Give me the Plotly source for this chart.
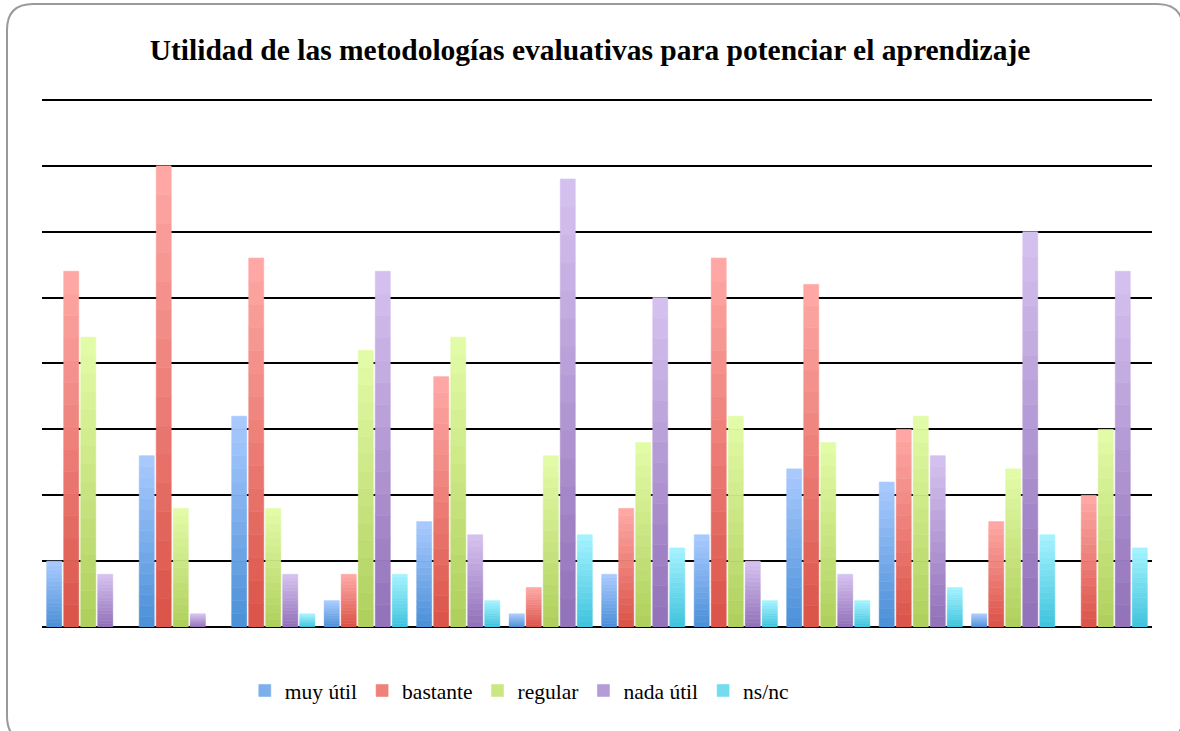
import plotly.graph_objects as go

# --- Data ---
grupos = [str(i) for i in range(1, 13)]
muy_util = [5, 13, 16, 2, 8, 1, 4, 7, 12, 11, 1, 0]
bastante = [27, 35, 28, 4, 19, 3, 9, 28, 26, 15, 8, 10]
regular = [22, 9, 9, 21, 22, 13, 14, 16, 14, 16, 12, 15]
nada_util = [4, 1, 4, 27, 7, 34, 25, 5, 4, 13, 30, 27]
ns_nc = [0, 0, 1, 4, 2, 7, 6, 2, 2, 3, 7, 6]

SERIES = [
    ("muy útil", muy_util, "#AACBFF", "#4A8FD6"),
    ("bastante", bastante, "#FFAAA7", "#DA5247"),
    ("regular", regular, "#E4FCA9", "#AECF5B"),
    ("nada útil", nada_util, "#D6C3F0", "#9170B8"),
    ("ns/nc", ns_nc, "#A6F3FF", "#3EC3DD"),
]

FONT_FAMILY = "Liberation Serif, Times New Roman, serif"
W, H = 1180, 731
L, R, T, B = 42, 28, 98, 104
YMAX = 40.15
N_SEG = 16  # slices per bar to fake the vertical gradient


def mix(c1, c2, t):
    a = [int(c1[i:i + 2], 16) for i in (1, 3, 5)]
    b = [int(c2[i:i + 2], 16) for i in (1, 3, 5)]
    return "rgb(%d,%d,%d)" % tuple(round(a[k] + (b[k] - a[k]) * t) for k in range(3))


fig = go.Figure()
for name, vals, top, bottom in SERIES:
    for k in range(N_SEG):
        t = 1 - (k + 0.5) / N_SEG  # bottom slice -> darker
        col = mix(top, bottom, t)
        fig.add_trace(go.Bar(
            x=grupos,
            y=[v / N_SEG if v else None for v in vals],
            base=[v * k / N_SEG for v in vals],
            name=name,
            offsetgroup=name,
            legendgroup=name,
            showlegend=(k == N_SEG // 2),
            marker=dict(color=col, line=dict(width=0.6, color=col)),
            hoverinfo="skip",
        ))


# rounded outer frame, given in pixels and converted to paper coords
def px(x, y):
    return (x - L) / (W - L - R), (H - B - y) / (H - T - B)


x0, y0, x1, y1, r = 7, 4, 1183, 742, 26
pts = [
    ("M", [(x0 + r, y0)]), ("L", [(x1 - r, y0)]), ("Q", [(x1, y0), (x1, y0 + r)]),
    ("L", [(x1, y1 - r)]), ("Q", [(x1, y1), (x1 - r, y1)]), ("L", [(x0 + r, y1)]),
    ("Q", [(x0, y1), (x0, y1 - r)]), ("L", [(x0, y0 + r)]), ("Q", [(x0, y0), (x0 + r, y0)]),
]
path = ""
for cmd, ps in pts:
    path += cmd + " " + " ".join("%.5f,%.5f" % px(*p) for p in ps) + " "
path += "Z"

fig.add_shape(type="path", path=path, xref="paper", yref="paper",
              line=dict(color="#9A9A9A", width=2), layer="below")

fig.update_layout(
    width=W, height=H,
    margin=dict(l=L, r=R, t=T, b=B),
    paper_bgcolor="white", plot_bgcolor="white",
    barmode="group", bargap=0.08, bargroupgap=0.12,
    title=dict(text="<b>Utilidad de las metodologías evaluativas para potenciar el aprendizaje</b>",
               x=0.5, xanchor="center", y=0.932, yanchor="middle",
               font=dict(family=FONT_FAMILY, size=29.5, color="black")),
    xaxis=dict(showticklabels=False, showgrid=False, zeroline=False, showline=False,
               ticks=""),
    yaxis=dict(range=[0, YMAX], tick0=0, dtick=5, showticklabels=False, ticks="",
               showgrid=True, gridcolor="black", gridwidth=2,
               zeroline=True, zerolinecolor="black", zerolinewidth=2, showline=False),
    legend=dict(orientation="h", x=0.43, xanchor="center", y=-0.12, yanchor="middle",
                font=dict(family=FONT_FAMILY, size=21.5, color="black"),
                itemwidth=30, traceorder="normal"),
    showlegend=True,
)

fig.write_html("out.html", config={"displayModeBar": False},
               post_script="document.body.style.margin='0';")
